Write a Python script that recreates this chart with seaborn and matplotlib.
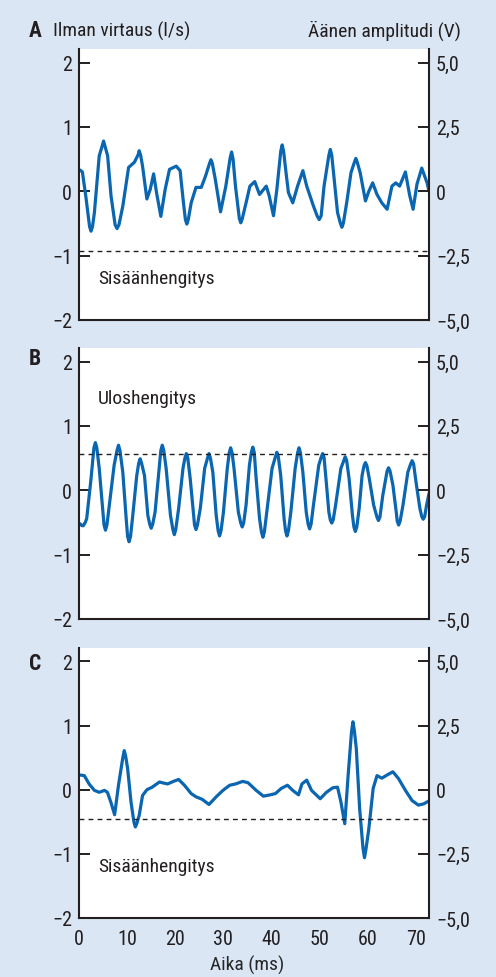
import matplotlib
matplotlib.use('Agg')
import matplotlib.pyplot as plt
from matplotlib import font_manager as fm
import seaborn as sns
import pandas as pd

# --- Data: (time ms, air flow l/s) ---
a_trace = [
    (0.2, 0.33), (0.7, 0.30), (1.4, -0.07), (2.2, -0.55), (2.5, -0.62), (2.8, -0.55),
    (3.2, -0.33), (4.2, 0.55), (4.8, 0.70), (5.1, 0.78), (5.4, 0.70), (5.95, 0.55),
    (6.65, -0.07), (7.5, -0.52), (7.9, -0.58), (8.3, -0.52), (9.1, -0.23), (10.3, 0.37),
    (11.5, 0.45), (12.3, 0.57), (12.5, 0.63), (12.8, 0.56), (13.2, 0.39), (14.1, -0.12),
    (14.8, 0.03), (15.5, 0.27), (16.1, -0.02), (17.0, -0.39), (17.9, 0.03), (18.8, 0.34),
    (20.2, 0.39), (21.0, 0.32), (21.7, -0.18), (22.1, -0.44), (22.4, -0.51), (22.7, -0.44),
    (23.3, -0.18), (24.3, 0.06), (25.4, 0.06), (26.3, 0.24), (27.1, 0.43), (27.4, 0.49),
    (27.7, 0.43), (28.3, 0.19), (29.4, -0.32), (30.5, 0.08), (31.4, 0.52), (31.7, 0.61),
    (32.0, 0.50), (32.5, 0.08), (33.3, -0.42), (33.6, -0.49), (33.9, -0.43), (34.7, -0.18),
    (35.5, 0.08), (36.5, 0.15), (37.5, -0.05), (38.9, 0.08), (39.5, -0.07), (40.4, -0.38),
    (41.1, 0.03), (41.9, 0.62), (42.2, 0.72), (42.5, 0.62), (43.0, 0.29), (43.5, -0.02),
    (44.4, -0.18), (45.4, 0.08), (46.5, 0.32), (47.3, 0.08), (48.7, -0.23), (49.5, -0.39),
    (49.9, -0.44), (50.3, -0.38), (50.9, 0.08), (51.9, 0.56), (52.2, 0.65), (52.5, 0.56),
    (53.0, 0.19), (53.7, -0.33), (54.3, -0.50), (54.6, -0.56), (54.9, -0.50), (55.6, -0.18),
    (56.5, 0.29), (57.2, 0.45), (57.5, 0.51), (57.8, 0.45), (58.4, 0.29), (59.5, -0.15),
    (60.2, 0.0), (61.0, 0.13), (61.9, -0.05), (62.9, -0.18), (64.0, -0.28), (65.0, 0.08),
    (65.8, 0.13), (66.6, 0.08), (67.8, 0.30), (68.7, -0.07), (69.4, -0.28), (70.2, 0.11),
    (71.2, 0.36), (72.3, 0.13), (72.7, 0.0),
]

b_trace = [
    (0.2, -0.52), (0.6, -0.55), (0.9, -0.55), (1.3, -0.50), (1.6, -0.44), (2.5, 0.18),
    (3.1, 0.66), (3.4, 0.74), (3.7, 0.66), (4.2, 0.34), (4.9, -0.28), (5.2, -0.54),
    (5.5, -0.62), (5.8, -0.54), (6.3, -0.23), (7.3, 0.39), (7.9, 0.62), (8.2, 0.70),
    (8.5, 0.62), (9.1, 0.28), (9.8, -0.44), (10.1, -0.72), (10.4, -0.80), (10.7, -0.72),
    (11.1, -0.44), (12.0, 0.23), (12.4, 0.42), (12.7, 0.49), (13.0, 0.42), (13.6, 0.23),
    (14.3, -0.39), (14.7, -0.53), (15.0, -0.59), (15.3, -0.53), (15.8, -0.34), (16.7, 0.39),
    (17.0, 0.62), (17.3, 0.70), (17.6, 0.62), (18.1, 0.34), (19.0, -0.39), (19.5, -0.61),
    (19.8, -0.69), (20.1, -0.61), (20.7, -0.28), (21.6, 0.34), (22.0, 0.50), (22.3, 0.57),
    (22.6, 0.50), (23.1, 0.18), (23.8, -0.39), (24.0, -0.54), (24.3, -0.61), (24.6, -0.54),
    (25.2, -0.28), (26.1, 0.34), (26.7, 0.50), (27.0, 0.57), (27.3, 0.50), (27.8, 0.28),
    (28.5, -0.39), (28.9, -0.63), (29.2, -0.71), (29.5, -0.63), (30.0, -0.34), (30.8, 0.34),
    (31.2, 0.58), (31.5, 0.66), (31.8, 0.58), (32.2, 0.34), (33.1, -0.34), (33.6, -0.51),
    (33.9, -0.57), (34.2, -0.51), (34.7, -0.23), (35.4, 0.39), (35.8, 0.59), (36.1, 0.67),
    (36.4, 0.59), (36.8, 0.18), (37.5, -0.44), (37.9, -0.65), (38.2, -0.73), (38.5, -0.65),
    (39.0, -0.34), (40.1, 0.34), (40.8, 0.52), (41.1, 0.59), (41.4, 0.52), (41.9, 0.23),
    (42.6, -0.44), (42.9, -0.63), (43.2, -0.71), (43.5, -0.63), (44.0, -0.34), (44.9, 0.34),
    (45.4, 0.58), (45.7, 0.66), (46.0, 0.58), (46.5, 0.28), (47.2, -0.34), (47.6, -0.53),
    (47.9, -0.60), (48.2, -0.53), (48.7, -0.23), (49.8, 0.39), (50.3, 0.51), (50.6, 0.57),
    (50.9, 0.51), (51.3, 0.18), (51.9, -0.34), (52.2, -0.46), (52.5, -0.51), (52.8, -0.46),
    (53.3, -0.23), (54.4, 0.34), (55.0, 0.46), (55.3, 0.52), (55.6, 0.46), (56.1, 0.18),
    (56.8, -0.39), (57.1, -0.57), (57.4, -0.64), (57.7, -0.57), (58.2, -0.28), (58.8, 0.23),
    (59.2, 0.38), (59.5, 0.43), (59.8, 0.38), (60.3, 0.18), (61.2, -0.23), (61.9, -0.42),
    (62.2, -0.47), (62.5, -0.42), (63.1, -0.08), (64.0, 0.30), (64.3, 0.35), (64.6, 0.30),
    (65.2, 0.08), (65.9, -0.34), (66.1, -0.48), (66.4, -0.54), (66.7, -0.48), (67.3, -0.23),
    (68.3, 0.28), (68.9, 0.41), (69.2, 0.46), (69.5, 0.41), (70.0, 0.13), (70.8, -0.28),
    (71.2, -0.41), (71.5, -0.45), (71.8, -0.41), (72.2, -0.23), (72.7, -0.05),
]

c_trace = [
    (0.2, 0.23), (1.1, 0.22), (2.1, 0.09), (3.2, -0.01), (4.2, -0.04), (5.3, -0.01),
    (5.9, -0.04), (6.6, -0.19), (7.4, -0.39), (8.2, 0.07), (9.1, 0.50), (9.4, 0.61),
    (9.7, 0.52), (10.1, 0.33), (10.8, -0.19), (11.4, -0.50), (11.7, -0.58), (12.0, -0.53),
    (12.5, -0.40), (13.2, -0.09), (14.1, 0.0), (15.2, 0.04), (16.7, 0.12), (18.4, 0.09),
    (19.6, 0.13), (20.7, 0.16), (21.9, 0.07), (23.3, -0.06), (24.3, -0.11), (25.6, -0.15),
    (27.0, -0.23), (28.5, -0.11), (29.9, -0.01), (31.3, 0.07), (32.5, 0.09), (34.0, 0.13),
    (35.1, 0.11), (36.1, 0.04), (36.8, -0.01), (38.3, -0.10), (39.7, -0.08), (40.8, -0.06),
    (42.0, 0.02), (43.3, 0.07), (44.4, -0.01), (45.6, -0.08), (46.3, 0.09), (47.3, 0.15),
    (48.3, -0.01), (50.1, -0.14), (51.4, -0.04), (52.7, 0.03), (53.7, 0.04), (54.4, -0.19),
    (55.2, -0.53), (55.9, 0.22), (56.6, 0.90), (56.9, 1.06), (57.2, 0.92), (57.6, 0.64),
    (58.3, -0.30), (59.0, -0.92), (59.3, -1.06), (59.6, -0.93), (60.2, -0.61), (61.1, 0.02),
    (61.9, 0.22), (62.9, 0.18), (64.0, 0.23), (65.2, 0.28), (66.4, 0.17), (67.8, -0.01),
    (69.2, -0.17), (70.5, -0.24), (71.6, -0.22), (72.8, -0.17),
]

panel_letters = ['A', 'B', 'C']
breath_labels = ['Sisäänhengitys', 'Uloshengitys', 'Sisäänhengitys']
breath_label_y = [-1.43, 1.36, -1.26]
threshold_levels = [-0.93, 0.56, -0.46]

flow_ticks = [-2, -1, 0, 1, 2]
flow_tick_labels = ['\u22122', '\u22121', '0', '1', '2']
amp_ticks = [-5, -2.5, 0, 2.5, 5]
amp_tick_labels = ['\u22125,0', '\u22122,5', '0', '2,5', '5,0']
time_ticks = [0, 10, 20, 30, 40, 50, 60, 70]

# --- Style ---
BG = '#dae6f3'
INK = '#231f20'
BLUE = '#0a66b0'

# pick a narrow face if one is installed, else plain Liberation Sans a bit smaller
installed = {f.name for f in fm.fontManager.ttflist}
narrow = [n for n in ['Liberation Sans Narrow', 'Noto Sans Condensed', 'Roboto Condensed',
                      'Open Sans Condensed', 'DejaVu Sans Condensed'] if n in installed]
if not narrow:
    narrow = sorted(n for n in installed if 'Narrow' in n or 'Condensed' in n)
if narrow:
    main_font, fs = narrow[0], 14
else:
    main_font, fs = 'Liberation Sans', 13

sns.set_style('white')
plt.rcParams['font.family'] = [main_font, 'DejaVu Sans']
plt.rcParams['font.size'] = fs
plt.rcParams['text.color'] = INK
plt.rcParams['xtick.color'] = INK
plt.rcParams['ytick.color'] = INK

W, H = 496, 978
fig = plt.figure(figsize=(W / 100, H / 100), dpi=100)
fig.patch.set_facecolor(BG)

# axes boxes in pixels: (top, bottom)
boxes = [(50, 321), (349, 620), (649, 919)]
left_px, right_px = 79, 429
letter_base = [37, 365, 670]

traces = [a_trace, b_trace, c_trace]

for i, (top, bottom) in enumerate(boxes):
    ax = fig.add_axes([left_px / W, 1 - bottom / H, (right_px - left_px) / W, (bottom - top) / H])
    ax.set_facecolor('white')
    df = pd.DataFrame(traces[i], columns=['time', 'flow'])
    sns.lineplot(data=df, x='time', y='flow', ax=ax, color=BLUE, linewidth=2.3,
                 errorbar=None)
    ax.axhline(threshold_levels[i], color=INK, linewidth=1.0, linestyle=(0, (3.5, 3)))
    ax.text(3.95, breath_label_y[i], breath_labels[i], fontsize=fs, va='baseline', ha='left')

    ax.set_xlim(0, 72.7)
    ax.set_ylim(-2, 2.21)
    ax.set_yticks(flow_ticks)
    ax.set_yticklabels(flow_tick_labels)
    ax.set_xticks(time_ticks)
    ax.set_ylabel('')
    ax.set_xlabel('')
    ax.tick_params(direction='in', length=8, width=1.4, labelsize=fs + 0.5, pad=5)
    for side in ['top', 'right']:
        ax.spines[side].set_visible(False)
    for side in ['left', 'bottom']:
        ax.spines[side].set_color(INK)
        ax.spines[side].set_linewidth(1.5)

    if i < 2:
        ax.set_xticklabels([])
    else:
        ax.tick_params(axis='x', pad=8)
        ax.set_xlabel('Aika (ms)', fontsize=fs)
        ax.xaxis.set_label_coords(0.48, -0.135)

    ax2 = ax.twinx()
    ax2.set_ylim(-5, 5.525)
    ax2.set_yticks(amp_ticks)
    ax2.set_yticklabels(amp_tick_labels)
    ax2.tick_params(direction='in', length=8, width=1.4, labelsize=fs + 0.5, pad=5)
    for side in ['top', 'left', 'bottom']:
        ax2.spines[side].set_visible(False)
    ax2.spines['right'].set_color(INK)
    ax2.spines['right'].set_linewidth(1.5)
    ax2.grid(False)

    fig.text(29 / W, 1 - letter_base[i] / H, panel_letters[i], fontsize=fs + 1.5,
             fontweight='bold', va='baseline', ha='left')

fig.text(53 / W, 1 - 37 / H, 'Ilman virtaus (l/s)', fontsize=fs, va='baseline', ha='left')
fig.text(461 / W, 1 - 37 / H, 'Äänen amplitudi (V)', fontsize=fs, va='baseline', ha='right')

fig.savefig('out.png', dpi=100, facecolor=BG)
